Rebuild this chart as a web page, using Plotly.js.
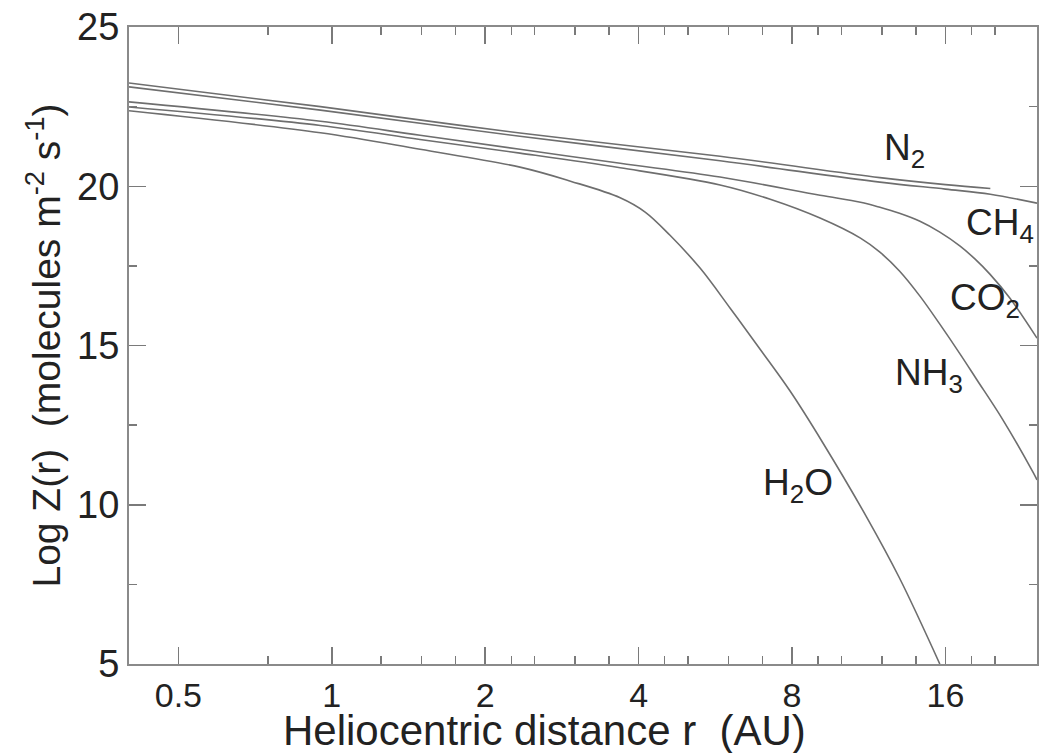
<!DOCTYPE html>
<html>
<head>
<meta charset="utf-8">
<script src="https://cdn.plot.ly/plotly-3.0.1.min.js"></script>
<style>html,body{margin:0;padding:0;background:#fff;}#chart{width:1040px;height:753px;}</style>
</head>
<body>
<div id="chart"></div>
<script>
// Heliocentric distance r (AU) and Log Z(r)
const r_N2  = [0.40, 0.95, 2.34, 5.78, 11.9, 16.0, 19.6];
const z_N2  = [23.24, 22.50, 21.67, 20.94, 20.27, 20.05, 19.93];

const r_CH4 = [0.40, 0.95, 2.34, 5.78, 11.9, 16.0, 19.6, 24.2];
const z_CH4 = [23.12, 22.39, 21.57, 20.80, 20.13, 19.91, 19.75, 19.47];

const r_CO2 = [0.40, 0.95, 1.49, 2.34, 3.68, 5.78, 9.08, 10.9, 11.9, 13.0, 14.26, 15.6, 17.1, 18.3, 19.56, 21.4, 24.2];
const z_CO2 = [22.65, 22.04, 21.60, 21.16, 20.72, 20.29, 19.72, 19.50, 19.34, 19.15, 18.90, 18.56, 18.12, 17.71, 17.24, 16.49, 15.23];

const r_NH3 = [0.40, 0.95, 1.49, 2.34, 3.68, 5.78, 7.25, 9.08, 10.9, 11.9, 13.0, 14.26, 15.6, 17.1, 18.4, 20.7, 23.75, 24.2];
const z_NH3 = [22.49, 21.91, 21.47, 21.04, 20.58, 20.04, 19.59, 19.00, 18.37, 17.93, 17.34, 16.55, 15.67, 14.73, 13.95, 12.69, 11.03, 10.78];

const r_H2O = [0.40, 0.95, 1.49, 2.34, 2.94, 3.68, 4.12, 4.61, 5.28, 6.05, 6.92, 7.93, 9.20, 11.2, 13.0, 15.6];
const z_H2O = [22.37, 21.68, 21.16, 20.60, 20.16, 19.64, 19.19, 18.46, 17.43, 16.17, 14.89, 13.57, 11.94, 9.62, 7.70, 5.0];

const xTickVals = [0.5, 1, 2, 4, 8, 16];
const xTickText = ['0.5', '1', '2', '4', '8', '16'];
const xMinorVals = [0.75, 1.25, 1.5, 1.75, 2.25, 2.5, 3, 3.5, 4.5, 5, 6, 7, 9, 10, 12, 14, 18, 20];
const yTickVals = [5, 10, 15, 20, 25];

const xTitle = 'Heliocentric distance r\u00a0\u00a0(AU)';
const yTitle = 'Log Z(r)\u00a0\u00a0(molecules m<sup>-2</sup> s<sup>-1</sup>)';

// Curve labels
const labelText = ['N<sub>2</sub>', 'CH<sub>4</sub>', 'CO<sub>2</sub>', 'NH<sub>3</sub>', 'H<sub>2</sub>O'];
const labelR = [13.3, 20.5, 19.1, 14.85, 8.22];
const labelZ = [21.13, 18.78, 16.42, 14.07, 10.62];

const lineStyle = {color: '#6e6e6e', width: 1.6, shape: 'spline', smoothing: 1.0};
const series = [[r_N2, z_N2], [r_CH4, z_CH4], [r_CO2, z_CO2], [r_NH3, z_NH3], [r_H2O, z_H2O]];
const traces = series.map(s => ({
  x: s[0], y: s[1], type: 'scatter', mode: 'lines', line: lineStyle,
  hoverinfo: 'skip', showlegend: false
}));

const fontFam = '"Liberation Sans", Arial, Helvetica, sans-serif';
const annotations = labelText.map((t, i) => ({
  text: t, x: Math.log10(labelR[i]), y: labelZ[i], xref: 'x', yref: 'y',
  showarrow: false, font: {family: fontFam, size: 37, color: '#222'}
}));
// x-axis title, placed as in the reference (left of the plot centre)
annotations.push({
  text: xTitle, xref: 'paper', yref: 'paper', x: 0.458, y: 0,
  xanchor: 'center', yanchor: 'top', yshift: -41, showarrow: false,
  font: {family: fontFam, size: 42, color: '#222'}
});

const axisCommon = {
  showline: true, linecolor: '#8a8a8a', linewidth: 2, mirror: 'ticks',
  ticks: 'inside', ticklen: 17, tickwidth: 1.5, tickcolor: '#7a7a7a',
  showgrid: false, zeroline: false,
  tickfont: {family: fontFam, size: 38, color: '#222'}
};

const layout = {
  width: 1040, height: 753,
  margin: {l: 129, r: 3, t: 27, b: 89},
  paper_bgcolor: '#fff', plot_bgcolor: '#fff',
  font: {family: fontFam, color: '#222'},
  xaxis: Object.assign({}, axisCommon, {
    type: 'log', range: [Math.log10(0.4), Math.log10(24.2)],
    tickmode: 'array', tickvals: xTickVals, ticktext: xTickText,
    tickfont: {family: fontFam, size: 34, color: '#222'},
    minor: {tickmode: 'array', tickvals: xMinorVals, ticks: 'inside', ticklen: 8, tickwidth: 1.5, tickcolor: '#7a7a7a', showgrid: false}
  }),
  yaxis: Object.assign({}, axisCommon, {
    range: [5, 25], tickmode: 'array', tickvals: yTickVals,
    minor: {dtick: 2.5, ticks: 'inside', ticklen: 8, tickwidth: 1.5, tickcolor: '#7a7a7a', showgrid: false},
    title: {text: yTitle, font: {family: fontFam, size: 39, color: '#222'}, standoff: 4}
  }),
  annotations: annotations
};

Plotly.newPlot('chart', traces, layout, {staticPlot: true, displayModeBar: false});
</script>
</body>
</html>
